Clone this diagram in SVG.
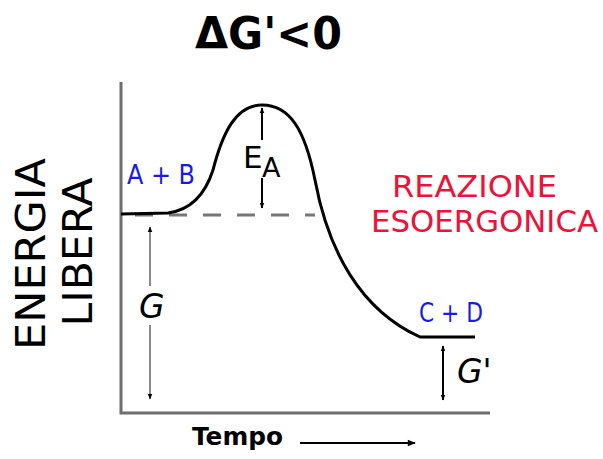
<svg xmlns="http://www.w3.org/2000/svg" width="603" height="459" viewBox="0 0 603 459">
<defs>
<marker id="ah" viewBox="0 0 10 10" refX="9" refY="5" markerWidth="6" markerHeight="6" orient="auto-start-reverse" markerUnits="userSpaceOnUse">
<path d="M0,1 L10,5 L0,9 Z" fill="#000"/>
</marker>
<marker id="ah2" viewBox="0 0 10 10" refX="9" refY="5" markerWidth="10" markerHeight="8" orient="auto" markerUnits="userSpaceOnUse">
<path d="M0,1 L10,5 L0,9 Z" fill="#000"/>
</marker>
<style>
.t{font-family:"DejaVu Sans","Liberation Sans",sans-serif;}
.blue{fill:#1a1ae6;font-size:27px;}
.red{fill:#f01038;font-size:31px;}
.blk{fill:#000;}
.ax{stroke:#6e6e6e;stroke-width:3;fill:none;}
.arr{stroke:#000;stroke-width:2;fill:none;}
.garr{stroke:#8a8a8a;stroke-width:2;fill:none;}
</style>
</defs>
<rect width="603" height="459" fill="#fff"/>
<g id="title"><text class="t blk" x="195" y="49" font-size="44" font-weight="bold" textLength="147" lengthAdjust="spacingAndGlyphs">ΔG'&lt;0</text></g>
<g id="ylabel">
<text class="t blk" font-size="41" transform="translate(45,254) rotate(-90)" text-anchor="middle" textLength="192" lengthAdjust="spacingAndGlyphs">ENERGIA</text>
<text class="t blk" font-size="41" transform="translate(92,252) rotate(-90)" text-anchor="middle" textLength="149" lengthAdjust="spacingAndGlyphs">LIBERA</text>
</g>
<g id="axes">
<path class="ax" d="M121,82 L121,413 L490,413"/>
</g>
<g id="connectors">
<path d="M121,215 L315,215" stroke="#777" stroke-width="3" stroke-dasharray="18,16" stroke-dashoffset="-14" fill="none"/>
<path d="M121,214 L168,213 C190,210 205,195 213,170 C222,135 235,105 262,105 C290,105 305,130 315,180 C328,250 360,310 420,337 L475,337" stroke="#000" stroke-width="3" fill="none"/>
<line class="arr" x1="262" y1="140" x2="262" y2="108" marker-end="url(#ah)"/>
<line class="arr" x1="262" y1="178" x2="262" y2="208" marker-end="url(#ah)"/>
<line class="garr" x1="150" y1="286" x2="150" y2="227" marker-end="url(#ah)"/>
<line class="garr" x1="150" y1="325" x2="150" y2="399" marker-end="url(#ah)"/>
<line class="arr" x1="443" y1="346" x2="443" y2="400" marker-start="url(#ah)" marker-end="url(#ah)"/>
<line x1="300" y1="443" x2="415" y2="443" stroke="#000" stroke-width="2" marker-end="url(#ah2)"/>
</g>
<g id="reactants"><text class="t blue" x="127" y="184" textLength="68" lengthAdjust="spacingAndGlyphs">A + B</text></g>
<g id="products"><text class="t blue" x="419" y="322" textLength="64" lengthAdjust="spacingAndGlyphs">C + D</text></g>
<g id="ea"><text class="t blk" x="243" y="168" font-size="31">E</text><text class="t blk" x="262" y="177" font-size="27">A</text></g>
<g id="g"><text class="t blk" x="139" y="318" font-size="33" font-style="italic">G</text></g>
<g id="gprime"><text class="t blk" x="457" y="383" font-size="33" font-style="italic">G'</text></g>
<g id="red-label">
<text class="t red" x="392" y="197" textLength="165" lengthAdjust="spacingAndGlyphs">REAZIONE</text>
<text class="t red" x="371" y="232" textLength="227" lengthAdjust="spacingAndGlyphs">ESOERGONICA</text>
</g>
<g id="xlabel"><text class="t blk" x="192" y="445" font-size="25" font-weight="bold" textLength="91" lengthAdjust="spacingAndGlyphs">Tempo</text></g>
</svg>
